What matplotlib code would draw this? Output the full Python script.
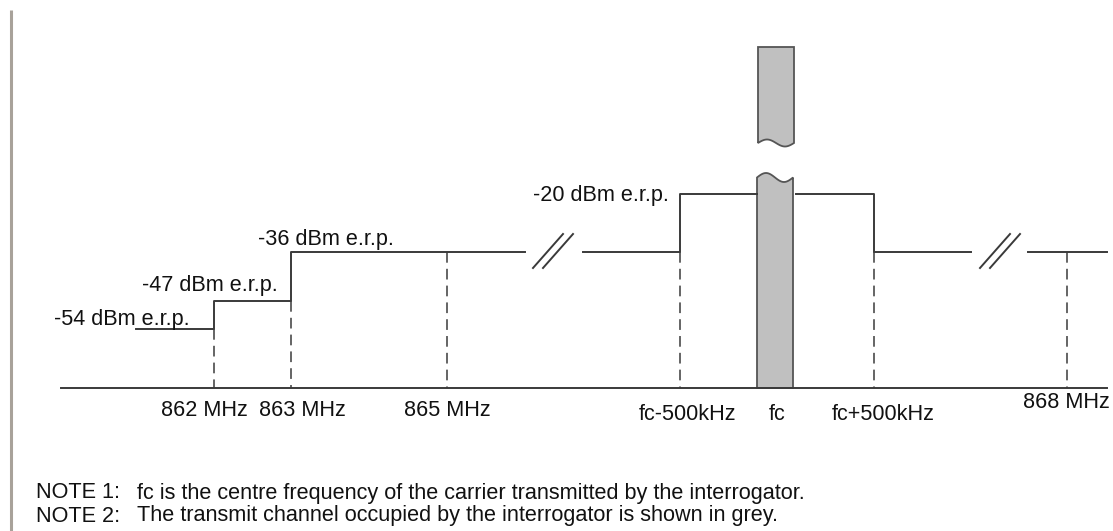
import numpy as np
import matplotlib
matplotlib.use("Agg")
import matplotlib.pyplot as plt
from matplotlib.patches import Polygon

plt.rcParams['font.family'] = ['Liberation Sans', 'DejaVu Sans']

# frequency markers along the axis (schematic position, label)
freq_labels = ['862 MHz', '863 MHz', '865 MHz', 'fc-500kHz', 'fc', 'fc+500kHz', '868 MHz']
freq_x = [214, 291, 447, 680, 775, 874, 1067]
freq_label_x = [204, 302, 447, 688, 777, 883, 1066]
freq_label_y = [411, 411, 411, 415, 415, 415, 402]

# power limits (dBm e.r.p.) and where each step is drawn on the schematic
levels_dbm = [-54, -47, -36, -20]
level_y = [329, 301, 252, 194]
level_text = ['%d dBm e.r.p.' % v for v in levels_dbm]
level_text_x = [54, 142, 258, 533]
level_text_y = [319, 285, 240, 195]

notes = ['fc is the centre frequency of the carrier transmitted by the interrogator.',
         'The transmit channel occupied by the interrogator is shown in grey.']

base_y = 388
line_col = '#3a3a3a'

fig = plt.figure(figsize=(11.13, 5.31), dpi=100)
ax = fig.add_axes([0, 0, 1, 1])
ax.set_xlim(0, 1113)
ax.set_ylim(531, 0)
ax.axis('off')

# left margin rule
ax.plot([11, 11], [10, 531], color='#a8a29a', lw=2.2, solid_capstyle='butt')

# frequency axis
ax.plot([61, 1107], [base_y, base_y], color=line_col, lw=1.4)

# mask steps (left part up to the first break)
ax.plot([136, 214, 214, 291, 291, 525],
        [level_y[0], level_y[0], level_y[1], level_y[1], level_y[2], level_y[2]],
        color=line_col, lw=1.4)
# between the breaks, around the carrier
ax.plot([583, 680, 680, 757], [level_y[2], level_y[2], level_y[3], level_y[3]],
        color=line_col, lw=1.4)
ax.plot([796, 874, 874, 971], [level_y[3], level_y[3], level_y[2], level_y[2]],
        color=line_col, lw=1.4)
ax.plot([1028, 1107], [level_y[2], level_y[2]], color=line_col, lw=1.4)

# axis breaks  //
for x0 in (533, 980):
    for dx in (0, 10):
        ax.plot([x0 + dx, x0 + dx + 30], [level_y[2] + 16, level_y[2] - 18],
                color=line_col, lw=1.4)

# dashed markers
marker_top = {214: level_y[0], 291: level_y[1], 447: level_y[2], 680: level_y[2],
              874: level_y[2], 1067: level_y[2]}
for x, top in marker_top.items():
    ax.plot([x, x], [top, base_y], color=line_col, lw=1.1,
            linestyle=(0, (7, 4)))

# carrier channel in grey, drawn with a broken (wavy) top
t = np.linspace(0, 1, 40)
xl0, xl1 = 757, 793
low_top = 177.5 - 4.5 * np.sin(2 * np.pi * t)
low = np.column_stack([np.r_[xl0, xl0 + t * (xl1 - xl0), xl1],
                       np.r_[base_y, low_top, base_y]])
ax.add_patch(Polygon(low, closed=True, facecolor='#c0c0c0', edgecolor='#555555', lw=1.3))

xu0, xu1 = 758, 794
up_bot = 143 - 3.5 * np.sin(2 * np.pi * t)
up = np.column_stack([np.r_[xu0, xu0 + t * (xu1 - xu0), xu1],
                      np.r_[47, up_bot, 47]])
ax.add_patch(Polygon(up, closed=True, facecolor='#c0c0c0', edgecolor='#555555', lw=1.3))

# labels
fs = 15.6
for s, x, y in zip(level_text, level_text_x, level_text_y):
    ax.text(x, y, s, fontsize=fs, ha='left', va='center', color='#111111')
for s, x, y in zip(freq_labels, freq_label_x, freq_label_y):
    ax.text(x, y, s, fontsize=fs, ha='center', va='center', color='#111111')

for i, s in enumerate(notes):
    y = 493 + 23 * i
    ax.text(36, y, 'NOTE %d:' % (i + 1), fontsize=15.6, ha='left', va='center', color='#111111')
    ax.text(137, y, s, fontsize=15.6, ha='left', va='center', color='#111111')

fig.savefig('out.png', dpi=100)
